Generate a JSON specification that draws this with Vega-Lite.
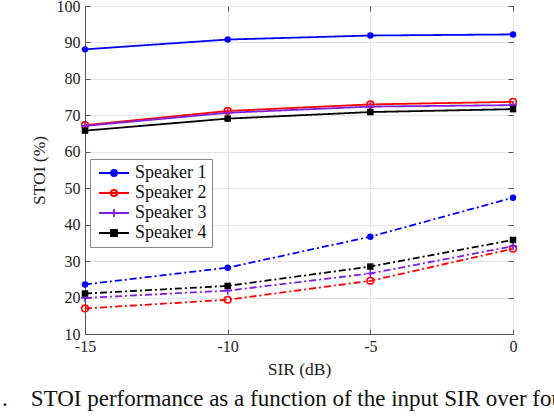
{
  "$schema": "https://vega.github.io/schema/vega-lite/v6.json",
  "width": 428,
  "height": 328,
  "autosize": "none",
  "padding": {"left": 85, "top": 6, "right": 41, "bottom": 82},
  "background": "white",
  "config": {
    "font": "Times New Roman, Liberation Serif, serif",
    "view": {"stroke": "#777", "strokeWidth": 1},
    "axis": {"labelFont": "Times New Roman, Liberation Serif, serif", "titleFont": "Times New Roman, Liberation Serif, serif", "labelFontSize": 16, "titleFontSize": 17.5, "titleFontWeight": "normal", "labelColor": "#222", "titleColor": "#222", "domainColor": "#555", "tickColor": "#555", "gridColor": "#e6e6e6", "labelFlush": false},
    "legend": {"labelFont": "Times New Roman, Liberation Serif, serif"}
  },
  "title": {
    "text": ".\u00a0\u00a0\u00a0\u00a0STOI performance as a function of the input SIR over four",
    "orient": "bottom",
    "anchor": "start",
    "frame": "group",
    "dx": -83,
    "offset": 10,
    "fontSize": 23,
    "fontWeight": "normal",
    "font": "Times New Roman, Liberation Serif, serif",
    "color": "#111"
  },
  "data": {
    "values": [
      {"sir": -15, "stoi": 88.1, "speaker": "Speaker 1", "cond": "A"},
      {"sir": -10, "stoi": 90.8, "speaker": "Speaker 1", "cond": "A"},
      {"sir": -5, "stoi": 91.9, "speaker": "Speaker 1", "cond": "A"},
      {"sir": 0, "stoi": 92.2, "speaker": "Speaker 1", "cond": "A"},
      {"sir": -15, "stoi": 67.3, "speaker": "Speaker 2", "cond": "A"},
      {"sir": -10, "stoi": 71.2, "speaker": "Speaker 2", "cond": "A"},
      {"sir": -5, "stoi": 73.0, "speaker": "Speaker 2", "cond": "A"},
      {"sir": 0, "stoi": 73.7, "speaker": "Speaker 2", "cond": "A"},
      {"sir": -15, "stoi": 67.1, "speaker": "Speaker 3", "cond": "A"},
      {"sir": -10, "stoi": 70.7, "speaker": "Speaker 3", "cond": "A"},
      {"sir": -5, "stoi": 72.4, "speaker": "Speaker 3", "cond": "A"},
      {"sir": 0, "stoi": 72.8, "speaker": "Speaker 3", "cond": "A"},
      {"sir": -15, "stoi": 65.8, "speaker": "Speaker 4", "cond": "A"},
      {"sir": -10, "stoi": 69.1, "speaker": "Speaker 4", "cond": "A"},
      {"sir": -5, "stoi": 70.9, "speaker": "Speaker 4", "cond": "A"},
      {"sir": 0, "stoi": 71.7, "speaker": "Speaker 4", "cond": "A"},
      {"sir": -15, "stoi": 23.6, "speaker": "Speaker 1", "cond": "B"},
      {"sir": -10, "stoi": 28.2, "speaker": "Speaker 1", "cond": "B"},
      {"sir": -5, "stoi": 36.7, "speaker": "Speaker 1", "cond": "B"},
      {"sir": 0, "stoi": 47.4, "speaker": "Speaker 1", "cond": "B"},
      {"sir": -15, "stoi": 17.0, "speaker": "Speaker 2", "cond": "B"},
      {"sir": -10, "stoi": 19.4, "speaker": "Speaker 2", "cond": "B"},
      {"sir": -5, "stoi": 24.6, "speaker": "Speaker 2", "cond": "B"},
      {"sir": 0, "stoi": 33.4, "speaker": "Speaker 2", "cond": "B"},
      {"sir": -15, "stoi": 19.9, "speaker": "Speaker 3", "cond": "B"},
      {"sir": -10, "stoi": 21.9, "speaker": "Speaker 3", "cond": "B"},
      {"sir": -5, "stoi": 26.6, "speaker": "Speaker 3", "cond": "B"},
      {"sir": 0, "stoi": 34.1, "speaker": "Speaker 3", "cond": "B"},
      {"sir": -15, "stoi": 21.1, "speaker": "Speaker 4", "cond": "B"},
      {"sir": -10, "stoi": 23.2, "speaker": "Speaker 4", "cond": "B"},
      {"sir": -5, "stoi": 28.5, "speaker": "Speaker 4", "cond": "B"},
      {"sir": 0, "stoi": 35.8, "speaker": "Speaker 4", "cond": "B"}
    ]
  },
  "encoding": {
    "x": {"field": "sir", "type": "quantitative", "scale": {"domain": [-15, 0], "nice": false}, "axis": null},
    "y": {"field": "stoi", "type": "quantitative", "scale": {"domain": [10, 100], "nice": false}, "axis": null},
    "color": {
      "field": "speaker", "type": "nominal",
      "scale": {"domain": ["Speaker 1", "Speaker 2", "Speaker 3", "Speaker 4"], "range": ["#0000ff", "#ff0000", "#7e1fdc", "#000000"]},
      "legend": null
    }
  },
  "layer": [
    {
      "mark": {"type": "line", "strokeWidth": 1.8},
      "encoding": {
        "x": {
          "field": "sir", "type": "quantitative",
          "axis": {"title": "SIR (dB)", "values": [-15, -10, -5, 0], "labelExpr": "datum.value + ''", "tickSize": -5, "labelPadding": 9, "titlePadding": 6, "grid": true}
        },
        "y": {
          "field": "stoi", "type": "quantitative",
          "axis": {"title": "STOI (%)", "values": [10, 20, 30, 40, 50, 60, 70, 80, 90, 100], "tickSize": -5, "labelPadding": 10, "titlePadding": 8, "grid": true}
        },
        "color": {
          "field": "speaker", "type": "nominal",
          "legend": {
            "title": null,
            "orient": "none",
            "legendX": 5,
            "legendY": 153,
            "padding": 5,
            "strokeColor": "#888",
            "fillColor": "white",
            "labelFontSize": 18,
            "labelColor": "#111",
            "symbolSize": 100,
            "symbolOffset": 10,
            "labelOffset": 12,
            "rowPadding": 2,
            "encode": {
              "symbols": {
                "update": {
                  "shape": {"signal": "datum.value == 'Speaker 1' ? 'M-3,0H3M-0.6,0A0.6,0.6,0,1,0,0.6,0A0.6,0.6,0,1,0,-0.6,0Z' : datum.value == 'Speaker 2' ? 'M-3,0H3M-0.64,0A0.64,0.64,0,1,1,0.64,0A0.64,0.64,0,1,1,-0.64,0ZM-0.6,0A0.6,0.6,0,1,0,0.6,0A0.6,0.6,0,1,0,-0.6,0Z' : datum.value == 'Speaker 3' ? 'M-3,0H3M0,-0.8V0.8' : 'M-3,0H3M-0.6,-0.6H0.6V0.6H-0.6Z'"},
                  "strokeWidth": {"value": 1.8},
                  "size": {"value": 100}
                }
              }
            }
          }
        },
        "strokeDash": {
          "field": "cond", "type": "nominal",
          "scale": {"domain": ["A", "B"], "range": [[1, 0], [7, 3, 2, 3]]},
          "legend": null
        }
      }
    },
    {
      "transform": [{"filter": "datum.speaker == 'Speaker 1'"}],
      "mark": {"type": "point", "shape": "circle", "filled": true, "size": 42, "opacity": 1},
      "encoding": {
        "x": {"field": "sir", "type": "quantitative", "axis": {"orient": "top", "labels": false, "title": null, "grid": false, "domain": false, "values": [-15, -10, -5, 0], "tickSize": -5}},
        "y": {"field": "stoi", "type": "quantitative", "axis": {"orient": "right", "labels": false, "title": null, "grid": false, "domain": false, "values": [10, 20, 30, 40, 50, 60, 70, 80, 90, 100], "tickSize": -5}}
      }
    },
    {
      "transform": [{"filter": "datum.speaker == 'Speaker 2'"}],
      "mark": {"type": "point", "shape": "circle", "filled": false, "size": 44, "strokeWidth": 1.6, "opacity": 1}
    },
    {
      "transform": [{"filter": "datum.speaker == 'Speaker 3'"}],
      "mark": {"type": "point", "shape": "M-1,0H1M0,-1V1", "filled": false, "size": 64, "strokeWidth": 1.6, "opacity": 1}
    },
    {
      "transform": [{"filter": "datum.speaker == 'Speaker 4'"}],
      "mark": {"type": "point", "shape": "square", "filled": true, "size": 42, "opacity": 1}
    }
  ],
  "resolve": {"axis": {"x": "independent", "y": "independent"}}
}
